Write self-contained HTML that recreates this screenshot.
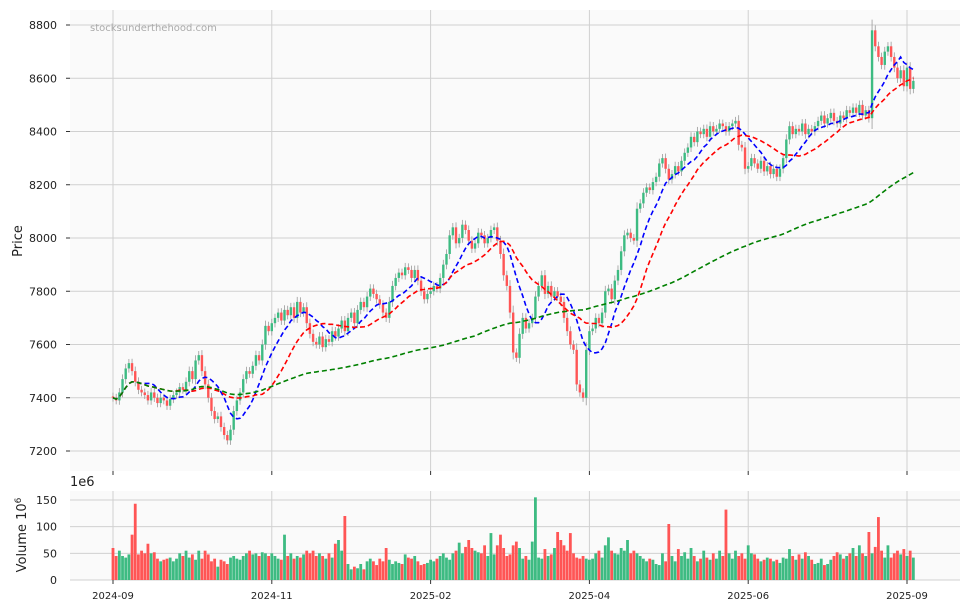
<!DOCTYPE html>
<html><head><meta charset="utf-8">
<style>
body{margin:0;background:#fff;font-family:"Liberation Sans","DejaVu Sans",sans-serif;}
svg text{font-family:"DejaVu Sans","Liberation Sans",sans-serif;}
</style></head>
<body>
<svg id="chart" width="969" height="611" viewBox="0 0 969 611" xmlns="http://www.w3.org/2000/svg">
<rect x="70" y="10" width="890" height="461" fill="#fafafa"/>
<rect x="70" y="491" width="890" height="89" fill="#fafafa"/>
<g id="grid"></g>
<g id="marks"></g>
<text x="90" y="31" font-size="10" fill="#aaa">stocksunderthehood.com</text>
<text x="22" y="241" font-size="13" fill="#222" text-anchor="middle" transform="rotate(-90 22 241)">Price</text>
<text x="26" y="535" font-size="13" fill="#222" text-anchor="middle" transform="rotate(-90 26 535)">Volume  10<tspan dy="-5" font-size="9">6</tspan></text>
<text x="70" y="486" font-size="13" fill="#222">1e6</text>
</svg>
<script>
const closes=[7400,7390,7420,7470,7510,7530,7500,7460,7430,7420,
7410,7390,7420,7400,7380,7400,7390,7370,7395,7410,
7420,7440,7430,7460,7500,7470,7540,7560,7500,7450,
7400,7350,7320,7330,7290,7260,7240,7280,7350,7390,
7420,7470,7500,7490,7520,7560,7540,7600,7670,7650,
7680,7700,7720,7690,7730,7710,7740,7700,7760,7720,
7740,7680,7640,7610,7600,7630,7590,7620,7610,7650,
7630,7660,7690,7650,7700,7720,7680,7730,7760,7740,
7780,7810,7790,7770,7750,7720,7700,7760,7820,7850,
7870,7860,7890,7880,7850,7880,7840,7800,7770,7790,
7800,7820,7810,7850,7900,7940,8010,8040,7980,8000,
8050,8030,7990,7960,7980,8020,8010,7980,8000,8030,
8040,7990,7940,7860,7820,7720,7570,7550,7640,7700,
7660,7680,7700,7780,7820,7860,7790,7820,7780,7800,
7780,7760,7700,7650,7600,7580,7450,7420,7400,7580,
7650,7660,7700,7680,7720,7800,7810,7770,7840,7880,
7950,8010,8020,8000,7990,8110,8130,8170,8190,8180,
8210,8230,8280,8300,8260,8220,8240,8270,8250,8290,
8320,8340,8380,8360,8400,8390,8410,8380,8420,8400,
8410,8430,8420,8400,8420,8430,8440,8350,8340,8260,
8270,8300,8280,8260,8290,8250,8270,8240,8260,8230,
8260,8300,8370,8420,8390,8410,8400,8430,8390,8410,
8400,8420,8440,8460,8430,8450,8470,8440,8430,8460,
8450,8480,8470,8490,8470,8500,8460,8480,8450,8780,
8720,8680,8650,8700,8720,8680,8640,8600,8630,8570,
8640,8560,8590];
const volumes=[60,45,55,45,42,48,85,143,48,55,
50,68,50,52,40,35,38,40,42,35,
40,50,45,55,42,48,38,55,40,55,
48,35,40,25,38,35,30,42,45,40,
38,45,50,55,48,50,45,52,50,45,
50,45,40,38,85,45,50,40,45,42,
48,55,50,55,45,50,45,40,50,42,
68,75,55,120,30,20,25,22,30,20,
35,40,35,28,40,35,60,38,30,35,
32,30,48,42,40,45,35,28,30,32,
38,35,40,45,50,42,38,50,55,70,
50,62,75,60,55,52,50,65,45,88,
48,65,85,60,45,48,65,72,60,40,
45,38,72,155,42,40,58,45,48,60,
90,75,65,55,88,50,42,40,45,40,
38,40,50,55,42,65,80,55,50,48,
60,55,75,50,55,50,45,40,35,40,
38,30,28,50,35,105,45,35,58,45,
52,40,60,45,35,40,55,42,38,50,
40,55,45,132,50,40,55,45,50,40,
65,50,48,40,35,38,42,40,35,38,
32,42,40,58,45,38,48,40,52,45,
38,30,32,40,28,30,38,45,52,48,
40,45,50,60,45,65,50,45,90,50,
62,118,55,42,65,42,50,55,48,58,
45,55,42];
const priceTicks=[7200,7400,7600,7800,8000,8200,8400,8600,8800];
const volTicks=[0,50,100,150];
const dateTickIdx=[0,50,100,150,200,250];
const dateTickLabels=["2024-09","2024-11","2025-02","2025-04","2025-06","2025-09"];
const maPeriods=[10,20,115];
const maColors=["#0000ff","#ff0000","#008000"];

const NS="http://www.w3.org/2000/svg";
const X0=113, DX=3.176;
const xs=i=>X0+i*DX;
const py=p=>25+(8800-p)*0.26625;
const vy=v=>580-v*(80/150);
function mk(tag,attrs,parent){const e=document.createElementNS(NS,tag);for(const k in attrs)e.setAttribute(k,attrs[k]);parent.appendChild(e);return e;}
const grid=document.getElementById('grid'), marks=document.getElementById('marks');

priceTicks.forEach(t=>{
  const y=py(t);
  const l=mk('line',{x1:70,x2:960,y1:y,y2:y,stroke:'#d0d0d0','stroke-width':1},grid);
  
  
  mk('line',{x1:66,x2:70,y1:y,y2:y,stroke:'#333'},grid);
  const tx=mk('text',{x:57,y:y+4,'font-size':11,'text-anchor':'end',fill:'#222'},grid);
  tx.textContent=t;
  
  
});
volTicks.forEach(t=>{
  const y=vy(t);
  const l=mk('line',{x1:70,x2:960,y1:y,y2:y,stroke:'#d0d0d0','stroke-width':1},grid);
  
  
  const tx=mk('text',{x:57,y:y+4,'font-size':11,'text-anchor':'end',fill:'#222'},grid);
  tx.textContent=t;
  
  
});
dateTickIdx.forEach((ix,k)=>{
  const x=xs(ix);
  mk('line',{x1:x,x2:x,y1:10,y2:471,stroke:'#d0d0d0'},grid);
  mk('line',{x1:x,x2:x,y1:491,y2:580,stroke:'#d0d0d0'},grid);
  mk('line',{x1:x,x2:x,y1:471,y2:475,stroke:'#333'},grid);
  mk('line',{x1:x,x2:x,y1:580,y2:584,stroke:'#333'},grid);
  const tx=mk('text',{x:x,y:599,'font-size':10,'text-anchor':'middle',fill:'#222'},grid);
  tx.textContent=dateTickLabels[k];
  
  
});

const UP="#3dbb82", DN="#ff5555";
closes.forEach((c,i)=>{
  const o=i>0?closes[i-1]:c+5;
  const up=c>=o;
  const hi=Math.max(o,c)+14+Math.abs(c-o)*0.08, lo=Math.min(o,c)-14-Math.abs(c-o)*0.08;
  const x=xs(i);
  const w=mk('line',{x1:x,x2:x,y1:py(hi),y2:py(lo),stroke:'#999','stroke-width':0.8},marks);
  
  
  const yt=py(Math.max(o,c)), yb=py(Math.min(o,c));
  const b=mk('rect',{x:x-1.2,y:yt,width:2.4,height:Math.max(1,yb-yt),fill:up?UP:DN},marks);
  
  
  const v=volumes[i];
  const vb=mk('rect',{x:x-1.4,y:vy(v),width:2.8,height:580-vy(v),fill:up?UP:DN},marks);
  
  
});

maPeriods.forEach((p,k)=>{
  let pts=[];
  closes.forEach((c,i)=>{
    const s=Math.max(0,i-p+1);let sum=0;
    for(let j=s;j<=i;j++)sum+=closes[j];
    pts.push(xs(i).toFixed(1)+","+py(sum/(i-s+1)).toFixed(1));
  });
  const pl=mk('polyline',{points:pts.join(' '),fill:'none',stroke:maColors[k],'stroke-width':1.6,'stroke-dasharray':'5,3'},marks);
  
  
});
</script>
</body></html>
